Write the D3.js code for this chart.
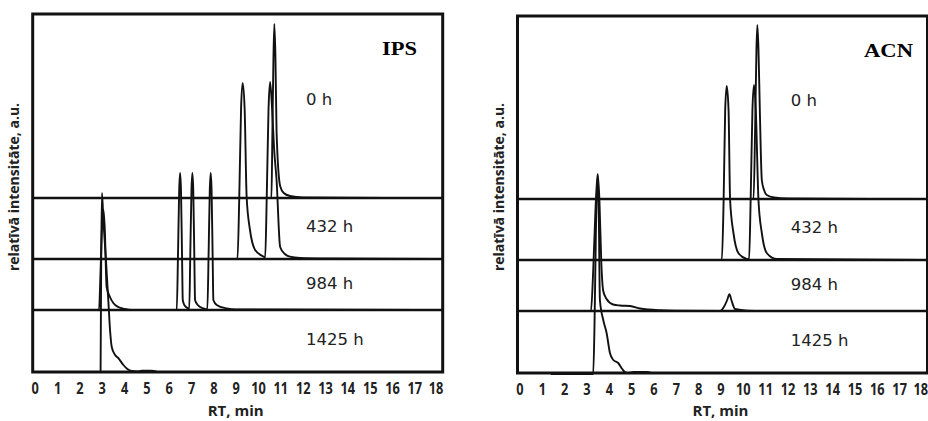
<!doctype html>
<html lang="ro">
<head>
<meta charset="UTF-8" />
<title>RT chromatograms</title>
<style>
  body { margin: 0; background: #fff; }
  svg { display: block; }
</style>
</head>
<body>
<div id="target"></div>
<script src="https://d3js.org/d3.v7.min.js"></script>
<script>
  /* global d3 */
  const width = 928, height = 421;

  // ageing times, drawn from bottom to top
  const hours = ["1425 h", "984 h", "432 h", "0 h"];
  // vertical offset of each trace, a.u.
  const offsets = [0, 62, 113, 174];
  const rtTicks = d3.range(0, 19);

  // IPS traces, [RT min, intensity a.u.]
  const ips1425 = [[2.95,0],[2.98,120],[3.01,179],[3.08,150],[3.19,112],[3.3,70],[3.38,40],[3.45,25],[3.6,17],[3.74,14],[3.97,7],[4.15,3],[4.34,1],[4.6,0.5],[4.8,1.3],[5.2,1.3],[5.5,0]];
  const ips984 = [[1.3,0],[2.88,0],[2.95,40],[3.02,85],[3.08,100],[3.14,80],[3.22,23],[3.37,13],[3.52,7],[3.74,3],[4.04,1],[4.3,0],
    [6.36,0],[6.42,60],[6.47,120],[6.51,137],[6.55,120],[6.6,50],[6.63,10],[6.7,5],[6.88,1.5],
    [6.92,1],[6.97,60],[7.02,120],[7.06,137],[7.1,120],[7.15,50],[7.18,10],[7.3,5],[7.55,1.5],
    [7.73,0.5],[7.79,60],[7.84,120],[7.88,137],[7.92,120],[7.97,50],[8.0,10],[8.15,5],[8.6,1.5],[9,0.5],[17.2,0]];
  const ips432 = [[1.3,0],[9.08,0],[9.16,62],[9.24,150],[9.31,176],[9.4,150],[9.49,62],[9.64,29],[9.87,9],[10.2,3],
    [10.32,1.5],[10.39,62],[10.47,150],[10.54,177],[10.63,150],[10.72,110],[10.83,79],[10.99,12],[11.2,5],[11.43,2.3],[11.88,1],[13,0.5],[18,0]];
  const ips0 = [[2,0],[10.6,0],[10.64,60],[10.69,140],[10.73,174],[10.78,140],[10.83,66],[10.99,12],[11.15,5],[11.43,2],[12,0.5],[18,0]];

  // ACN traces
  const acn1425 = [[1.4,-1],[3.3,-1],[3.36,50],[3.42,140],[3.5,198],[3.55,160],[3.6,73],[3.75,53],[3.9,40],[4.05,20],[4.2,13],[4.42,10],[4.6,4],[4.72,1],[4.9,0],[5.1,1],[5.7,1],[5.9,0]];
  const acn984 = [[0,0],[3.2,0],[3.3,40],[3.4,100],[3.5,137],[3.58,110],[3.66,50],[3.75,20],[3.9,12],[4.19,6.5],[4.5,5.5],[4.95,5],[5.4,2.5],[6.3,0.7],[7,0.3],
    [8.98,0],[9.15,4],[9.3,11],[9.4,16.7],[9.5,10],[9.65,2],[10.1,0.5],[10.7,0]];
  const acn432 = [[1.35,0],[9.06,0],[9.14,60],[9.21,150],[9.28,174],[9.36,150],[9.43,60],[9.58,27],[9.8,7],[10.17,1],
    [10.28,0.5],[10.35,60],[10.43,150],[10.5,175],[10.58,150],[10.7,60],[10.85,27],[11.07,7],[11.52,1],[18,0]];
  const acn0 = [[2,0],[10.48,0],[10.55,70],[10.61,150],[10.65,174],[10.7,150],[10.76,90],[10.85,19],[10.95,9],[11.07,4],[11.4,1.5],[12,0.5],[18,0]];

  const panels = [
    { title: "IPS", traces: [ips1425, ips984, ips432, ips0], x0: 34.7, top: 14, bottom: 372, titleW: 35, titleEnd: 417 },
    { title: "ACN", traces: [acn1425, acn984, acn432, acn0], x0: 519.5, top: 16, bottom: 373, titleW: 49, titleEnd: 913 }
  ];
  const labelLift = [27, 21, 27, 93];

  const svg = d3.select("#target").append("svg")
    .attr("width", width).attr("height", height)
    .attr("viewBox", [0, 0, width, height]);

  panels.forEach((p) => {
    const x = d3.scaleLinear().domain([0, 18]).range([p.x0, p.x0 + 402]);
    const y = d3.scaleLinear().domain([0, p.bottom - p.top]).range([p.bottom, p.top]);
    const g = svg.append("g");
    const left = x(0) - 2, right = x(18) + 6;

    // baselines of the stacked traces
    g.selectAll("line.base").data(offsets.slice(1)).join("line")
      .attr("x1", left).attr("x2", right)
      .attr("y1", (d) => y(d)).attr("y2", (d) => y(d))
      .attr("stroke", "#111").attr("stroke-width", 2.5);

    const line = d3.line().x((d) => x(d[0])).y((d) => y(d[1])).curve(d3.curveMonotoneX);
    g.selectAll("path.trace").data(p.traces).join("path")
      .attr("d", (d, i) => line(d.map((v) => [v[0], v[1] + offsets[i]])))
      .attr("fill", "none").attr("stroke", "#111").attr("stroke-width", 1.9)
      .attr("stroke-linejoin", "round");

    g.append("rect")
      .attr("x", left).attr("y", p.top)
      .attr("width", right - left).attr("height", p.bottom - p.top)
      .attr("fill", "none").attr("stroke", "#111").attr("stroke-width", 3);

    g.selectAll("text.hour").data(hours).join("text")
      .attr("x", x(12.15)).attr("y", (d, i) => y(offsets[i] + labelLift[i]))
      .attr("font-family", "DejaVu Sans").attr("font-size", 16.5).attr("fill", "#222")
      .text((d) => d);

    g.append("text")
      .attr("x", p.titleEnd).attr("y", p.top + 41)
      .attr("text-anchor", "end")
      .attr("font-family", "Liberation Serif").attr("font-weight", "bold").attr("font-size", 19)
      .attr("textLength", p.titleW).attr("lengthAdjust", "spacingAndGlyphs")
      .text(p.title);

    const ax = g.append("g").attr("transform", `translate(0,${p.bottom})`)
      .call(d3.axisBottom(x).tickValues(rtTicks).tickSize(0).tickPadding(11));
    ax.select(".domain").remove();
    ax.selectAll("text").attr("font-family", "Open Sans").attr("font-weight", "bold")
      .attr("font-size", 16).attr("fill", "#222")
      .attr("transform", (d) => `translate(${d === 18 ? -1.2 : 0},0) scale(0.8,1)`);

    g.append("text")
      .attr("x", x(9)).attr("y", 416)
      .attr("text-anchor", "middle")
      .attr("font-family", "Open Sans").attr("font-weight", "bold").attr("font-size", 15).attr("fill", "#222")
      .text("RT, min");

    g.append("text")
      .attr("transform", `translate(${left - 14},187) rotate(-90)`)
      .attr("text-anchor", "middle")
      .attr("font-family", "Open Sans").attr("font-weight", "bold").attr("font-size", 14).attr("fill", "#222")
      .text("relatīvā intensitāte, a.u.");
  });
</script>
</body>
</html>
